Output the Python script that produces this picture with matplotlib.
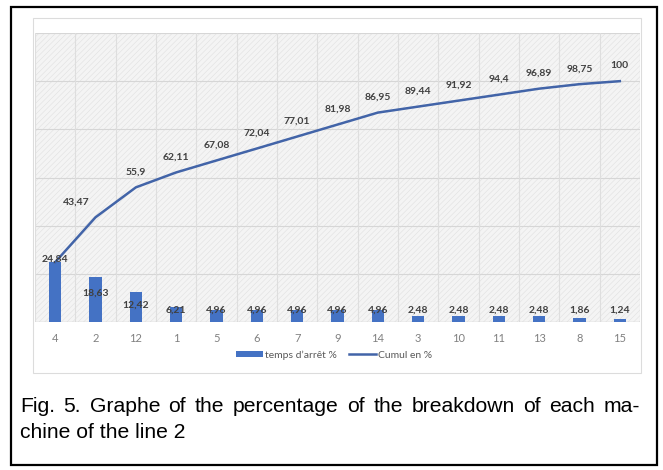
import matplotlib
matplotlib.use("Agg")
import matplotlib.pyplot as plt
from matplotlib.patches import Rectangle
from matplotlib.lines import Line2D
from matplotlib.patches import Patch

# ---------------- data ----------------
machines = ["4", "2", "12", "1", "5", "6", "7", "9", "14", "3", "10", "11", "13", "8", "15"]
downtime_pct = [24.84, 18.63, 12.42, 6.21, 4.96, 4.96, 4.96, 4.96, 4.96, 2.48, 2.48, 2.48, 2.48, 1.86, 1.24]
cumul_pct = [24.84, 43.47, 55.9, 62.11, 67.08, 72.04, 77.01, 81.98, 86.95, 89.44, 91.92, 94.4, 96.89, 98.75, 100]
bar_label_y = [26.2, 12.0, 7.0] + [5.0] * 12
caption_line1 = "Fig. 5. Graphe of the percentage of the breakdown of each ma-"
caption_line2 = "chine of the line 2"

def fmt(v):
    s = ("%.2f" % v).rstrip("0").rstrip(".")
    return s.replace(".", ",")

W, H = 663, 470
plt.rcParams["hatch.linewidth"] = 0.4
fig = plt.figure(figsize=(W / 100, H / 100), dpi=100)
fig.patch.set_facecolor("white")

def fx(px): return px / W
def fy(py): return 1 - py / H

# outer black frame
fig.patches.append(Rectangle((fx(11), fy(465)), fx(657) - fx(11), fy(7) - fy(465),
                             transform=fig.transFigure, fill=False, edgecolor="black", lw=1.6, zorder=-5))
# chart panel
fig.patches.append(Rectangle((fx(33), fy(373)), fx(641) - fx(33), fy(18) - fy(373),
                             transform=fig.transFigure, facecolor="white", edgecolor="#dcdcdc",
                             lw=0.8, zorder=-10))

ax = fig.add_axes([fx(35), fy(322), fx(640) - fx(35), fy(33) - fy(322)])
ax.set_facecolor("#f4f4f4")
ax.add_patch(Rectangle((0, 0), 1, 1, transform=ax.transAxes, facecolor="none",
                       edgecolor="#e0e0e0", hatch="//////", lw=0, zorder=0))

x = list(range(len(machines)))
ax.set_xlim(-0.5, len(machines) - 0.5)
ax.set_ylim(0, 120)

# grid
for gy in range(20, 121, 20):
    ax.axhline(gy, color="#d6d6d6", lw=0.8, zorder=1)
for gx in range(len(machines) + 1):
    ax.axvline(gx - 0.5, color="#dedede", lw=0.8, zorder=1)
ax.axhline(0, color="#d0d0d0", lw=1.0, zorder=3)

ax.bar(x, downtime_pct, width=0.3, color="#4472C4", zorder=4)
ax.plot(x, cumul_pct, color="#4264a8", lw=1.8, zorder=5)

lab_kw = dict(fontsize=7.5, fontweight="bold", color="#404040", family=["Lato", "DejaVu Sans"],
              ha="center", va="center", zorder=6)
for xi, v, ly in zip(x, downtime_pct, bar_label_y):
    ax.text(xi, ly, fmt(v), **lab_kw)
for i, (xi, v) in enumerate(zip(x, cumul_pct)):
    if i == 0:
        continue
    dx = -14 if i == 1 else 0
    ax.annotate(fmt(v), (xi, v), xytext=(dx, 11), textcoords="offset points", **lab_kw)

for s in ax.spines.values():
    s.set_visible(False)
ax.set_yticks([])
ax.set_xticks(x)
ax.set_xticklabels(machines, fontsize=8, color="#808080", family=["Lato", "DejaVu Sans"])
ax.tick_params(axis="x", length=0, pad=8)

handles = [Patch(facecolor="#4472C4", edgecolor="none"),
           Line2D([0], [0], color="#4264a8", lw=1.8)]
fig.legend(handles, ["temps d\u2019arr\u00eat %", "Cumul en %"], loc="center",
           bbox_to_anchor=(fx(334), fy(355)), ncol=2, frameon=False,
           prop={"family": ["Lato", "DejaVu Sans"], "size": 7.5},
           labelcolor="#595959", handlelength=2.6, handleheight=0.6,
           handletextpad=0.2, columnspacing=1.2)

# caption: line 1 justified between x=20 and x=640
cap_kw = dict(fontsize=15.2, family=["Liberation Sans", "DejaVu Sans"], color="black",
              ha="left", va="center")
renderer = fig.canvas.get_renderer()
words = caption_line1.split(" ")
tmp = [fig.text(0, 0, w, **cap_kw) for w in words]
widths = [t.get_window_extent(renderer).width for t in tmp]
for t in tmp:
    t.remove()
left, right = 20, 640
gap = (right - left - sum(widths)) / (len(words) - 1)
xpos = left
for w, wd in zip(words, widths):
    fig.text(fx(xpos), fy(407), w, **cap_kw)
    xpos += wd + gap
fig.text(fx(20), fy(432), caption_line2, **cap_kw)

fig.savefig("out.png", dpi=100, facecolor="white")
